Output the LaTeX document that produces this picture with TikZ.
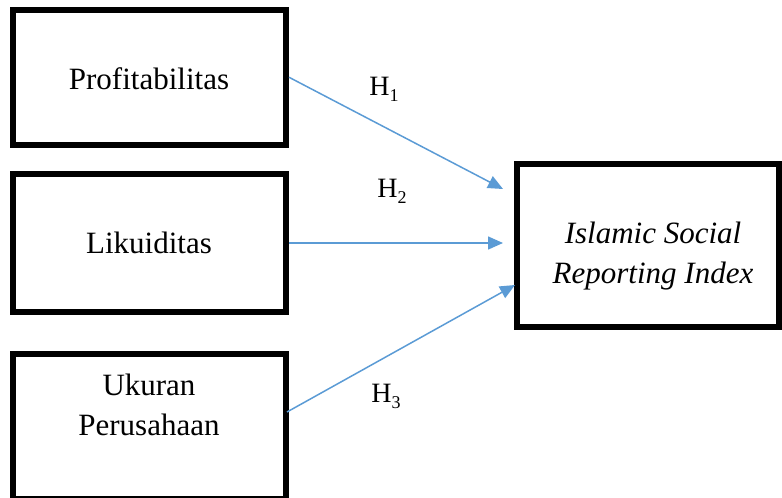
\documentclass[tikz,border=0pt]{standalone}
\usepackage{fontspec}
\setmainfont{Liberation Serif}
\usetikzlibrary{arrows.meta}
\definecolor{arrowblue}{HTML}{5B9BD5}
\tikzset{
  varbox/.style={draw=black, line width=6pt, rectangle, inner sep=0pt},
  boxtext/.style={anchor=base, inner sep=0pt, font=\fontsize{31}{40}\selectfont},
  hyp/.style={anchor=base, inner sep=0pt, font=\fontsize{28}{30}\selectfont},
  link/.style={draw=arrowblue, line width=1.5pt, -{Triangle[length=15pt,width=13pt]}}
}
\newcommand{\hsub}[1]{\raisebox{-6pt}{\fontsize{18}{18}\selectfont #1}}
\begin{document}
\begin{tikzpicture}[x=1pt,y=-1pt]
\useasboundingbox (0,0) rectangle (782,498);
% boxes
\node[varbox, minimum width=273.5pt, minimum height=134.5pt] (prof) at (149.25,77.25) {};
\node[varbox, minimum width=273.5pt, minimum height=138pt] (liku) at (149.25,243) {};
\node[varbox, minimum width=273.5pt, minimum height=145.5pt] (ukur) at (149.25,426.25) {};
\node[varbox, minimum width=262.5pt, minimum height=163.5pt] (isri) at (647.75,245.25) {};
% texts
\node[boxtext] (tprof) at (149,89) {Profitabilitas};
\node[boxtext] (tliku) at (149,253) {Likuiditas};
\node[boxtext] (tuk1) at (149,395) {Ukuran};
\node[boxtext] (tuk2) at (149,435) {Perusahaan};
\node[boxtext] (tis1) at (653,243) {\itshape Islamic Social};
\node[boxtext] (tis2) at (653,283) {\itshape Reporting Index};
% hypothesis labels
\node[hyp] (h1) at (384,95) {H\hsub{1}};
\node[hyp] (h2) at (392,197) {H\hsub{2}};
\node[hyp] (h3) at (386,402) {H\hsub{3}};
% arrow targets
\coordinate (e1) at (503,189);
\coordinate (e2) at (503,243);
\coordinate (e3) at (515,285);
\coordinate (s3) at (287,412);
% connectors
\draw[link] (prof.east) -- (e1);
\draw[link] (liku.east) -- (e2);
\draw[link] (s3) -- (e3);
\end{tikzpicture}
\end{document}
